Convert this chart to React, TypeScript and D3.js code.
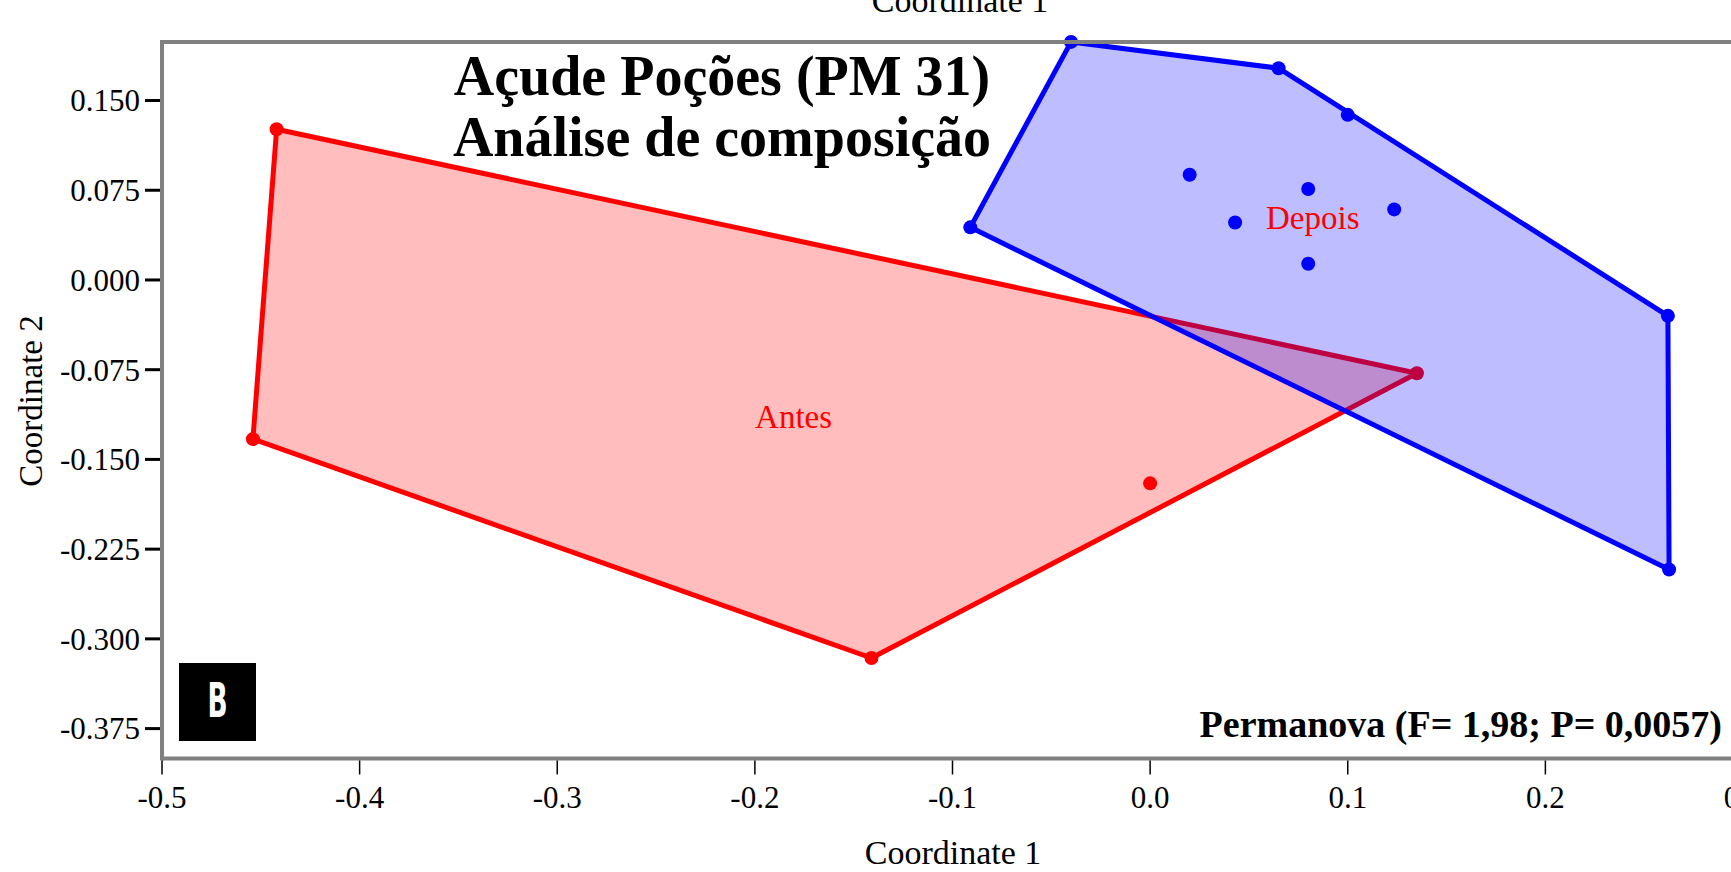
import React from "react";
import * as d3 from "d3";

// PCoA scores
const antesX = [-0.442, -0.454, -0.141, 0.135, 0.0];
const antesY = [0.126, -0.133, -0.316, -0.078, -0.170];
const depoisX = [-0.040, 0.065, 0.100, 0.020, 0.080, 0.1235, 0.043, 0.080, -0.091, 0.262, 0.2626];
const depoisY = [0.199, 0.177, 0.138, 0.088, 0.076, 0.059, 0.048, 0.0135, 0.044, -0.030, -0.242];

const xTicks = [-0.5, -0.4, -0.3, -0.2, -0.1, 0.0, 0.1, 0.2, 0.3];
const yTicks = [0.150, 0.075, 0.0, -0.075, -0.150, -0.225, -0.300, -0.375];

const groups = [
  {name: "Antes", xs: antesX, ys: antesY, stroke: "#ff0000", fill: "rgba(255,0,0,0.26)"},
  {name: "Depois", xs: depoisX, ys: depoisY, stroke: "#0000ff", fill: "rgba(0,0,255,0.26)"},
];

const W = 1731;
const H = 872;

export default function App() {
  const left = 162;
  const top = 42;
  const bottom = 758.5;
  const x = d3.scaleLinear().domain([-0.5, 0.3]).range([left, 1743]);
  const y = d3.scaleLinear().domain([-0.4, 0.2]).range([bottom, 40.7]);
  const serif = "'Liberation Serif', 'DejaVu Serif', serif";
  const fmt = (f: string) => (v: number) => d3.format(f)(v).replace("−", "-");

  return (
    <svg width={W} height={H} style={{position: "absolute", left: 0, top: 0, background: "#fff"}}>
      <rect width={W} height={H} fill="#fff"/>
      {/* convex hulls per group */}
      {groups.map(g => {
        const pts: [number, number][] = g.xs.map((v, i) => [x(v), y(g.ys[i])]);
        const hull = d3.polygonHull(pts) || pts;
        const cx = x(d3.mean(g.xs) as number);
        const cy = y(d3.mean(g.ys) as number);
        return (
          <g key={g.name}>
            <path d={"M" + hull.join("L") + "Z"} fill={g.fill} stroke={g.stroke}
              strokeWidth={5} strokeLinejoin="round"/>
            {pts.map((p, i) => (
              <circle key={i} cx={p[0]} cy={p[1]} r={7} fill={g.stroke}/>
            ))}
            <text x={cx} y={cy} dy="0.35em" textAnchor="middle" fill="#ff0000"
              fontFamily={serif} fontSize={33}>{g.name}</text>
          </g>
        );
      })}

      {/* frame */}
      <g stroke="#808080" strokeWidth={4} fill="none">
        <line x1={left} x2={W + 20} y1={top} y2={top}/>
        <line x1={left} x2={W + 20} y1={bottom} y2={bottom}/>
        <line x1={left} x2={left} y1={top - 2} y2={bottom + 2}/>
      </g>

      {/* y axis */}
      {yTicks.map(t => (
        <g key={t} transform={`translate(${left},${y(t)})`}>
          <line x1={-17} x2={-2} stroke="#000" strokeWidth={3}/>
          <text x={-22} dy="0.35em" textAnchor="end" fontFamily={serif} fontSize={31}
            fill="#000">{fmt(".3f")(t)}</text>
        </g>
      ))}
      {/* x axis */}
      {xTicks.map(t => (
        <g key={t} transform={`translate(${x(t)},${bottom})`}>
          <line y1={2} y2={16} stroke="#000" strokeWidth={1.5}/>
          <text y={26} dy="0.75em" textAnchor="middle" fontFamily={serif} fontSize={31}
            fill="#000">{fmt(".1f")(t)}</text>
        </g>
      ))}

      <text x={953} y={864} textAnchor="middle" fontFamily={serif} fontSize={34}>Coordinate 1</text>
      <text x={960} y={12} textAnchor="middle" fontFamily={serif} fontSize={34}>Coordinate 1</text>
      <text transform="translate(42,401) rotate(-90)" textAnchor="middle" fontFamily={serif}
        fontSize={33}>Coordinate 2</text>

      <text x={722} fontFamily={serif} fontSize={56} fontWeight="bold" textAnchor="middle">
        <tspan x={722} y={95}>Açude Poções (PM 31)</tspan>
        <tspan x={722} y={156}>Análise de composição</tspan>
      </text>

      <rect x={179} y={663} width={77} height={78} fill="#000"/>
      <text transform="translate(217.5,717) scale(0.55,1)" textAnchor="middle" fill="#fff"
        fontFamily="'DejaVu Sans', sans-serif" fontWeight="bold" fontSize={48}>B</text>

      <text x={1722} y={737} textAnchor="end" fontFamily={serif} fontWeight="bold"
        fontSize={38}>Permanova (F= 1,98; P= 0,0057)</text>
    </svg>
  );
}
